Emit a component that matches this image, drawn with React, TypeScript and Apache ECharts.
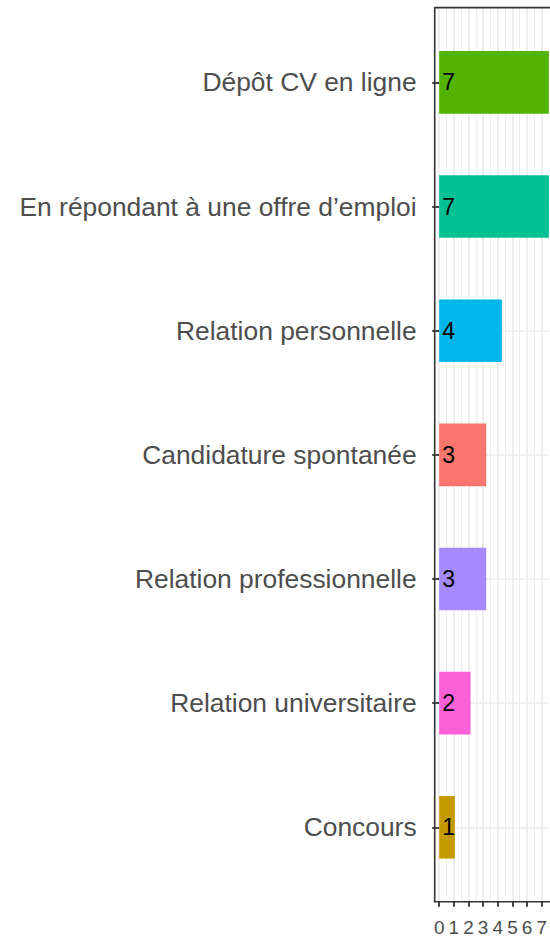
import React, { useEffect, useRef } from "react";
import * as echarts from "echarts";

const categories = [
  "Dépôt CV en ligne",
  "En répondant à une offre d’emploi",
  "Relation personnelle",
  "Candidature spontanée",
  "Relation professionnelle",
  "Relation universitaire",
  "Concours",
];
const counts = [7, 7, 4, 3, 3, 2, 1];
const barColors = ["#53B400", "#00C094", "#00B6EB", "#F8766D", "#A58AFF", "#FB61D7", "#C49A00"];
const xMin = 0;
const xMax = 7;

const FONT = "'Liberation Sans', Arial, Helvetica, sans-serif";

export default function App() {
  const ref = useRef<HTMLDivElement>(null);
  useEffect(() => {
    if (!ref.current) return;
    const chart = echarts.init(ref.current, null, { renderer: "svg" });
    const plotLeft = 439.2;
    const plotWidth = 109.7;
    const panelTop = 7.6;
    const panelBottom = 901.8;
    const firstCenter = 82.4;
    const lastCenter = 827.3;
    chart.setOption({
      animation: false,
      backgroundColor: "#ffffff",
      grid: [
        { left: plotLeft, top: panelTop, width: plotWidth, height: panelBottom - panelTop, containLabel: false },
        { left: plotLeft, top: firstCenter, width: plotWidth, height: lastCenter - firstCenter, containLabel: false },
      ],
      xAxis: [
        {
          type: "value",
          gridIndex: 0,
          min: xMin,
          max: xMax,
          interval: 1,
          axisLine: { show: false },
          axisTick: { show: true, length: 5, lineStyle: { color: "#333333", width: 1.8 } },
          axisLabel: { show: true, margin: 16, color: "#4D4D4D", fontSize: 19, fontFamily: FONT },
          splitLine: { show: true, lineStyle: { color: "#EBEBEB", width: 1.7 } },
          minorTick: { show: false, splitNumber: 2 },
          minorSplitLine: { show: true, lineStyle: { color: "#EBEBEB", width: 0.9 } },
        },
        {
          type: "value",
          gridIndex: 1,
          min: xMin,
          max: xMax,
          show: false,
          splitLine: { show: false },
        },
      ],
      yAxis: [
        {
          type: "value",
          gridIndex: 0,
          min: 0,
          max: 1,
          show: false,
          splitLine: { show: false },
        },
        {
          type: "category",
          gridIndex: 1,
          data: categories,
          inverse: true,
          boundaryGap: false,
          offset: 4.6,
          axisLine: { show: false },
          axisTick: { show: true, length: 7, lineStyle: { color: "#333333", width: 1.8 } },
          axisLabel: { show: true, margin: 18, color: "#4D4D4D", fontSize: 26.4, fontFamily: FONT },
          splitLine: { show: true, lineStyle: { color: "#EBEBEB", width: 1.7 } },
        },
      ],
      series: [
        {
          type: "bar",
          xAxisIndex: 1,
          yAxisIndex: 1,
          barWidth: 62.6,
          data: counts.map((v, i) => ({ value: v, itemStyle: { color: barColors[i] } })),
          label: {
            show: true,
            position: "insideLeft",
            distance: 3,
            color: "#000000",
            fontSize: 23,
            fontFamily: FONT,
            formatter: (p: any) => String(p.value),
          },
          z: 3,
        },
      ],
      graphic: [
        {
          type: "rect",
          z: 100,
          silent: true,
          shape: { x: 434.7, y: panelTop, width: 200, height: panelBottom - panelTop },
          style: { fill: "none", stroke: "#333333", lineWidth: 1.6 },
        },
      ],
    });
    return () => chart.dispose();
  }, []);
  return (
    <div
      ref={ref}
      style={{ position: "absolute", left: 0, top: 0, width: 550, height: 937 }}
    />
  );
}
